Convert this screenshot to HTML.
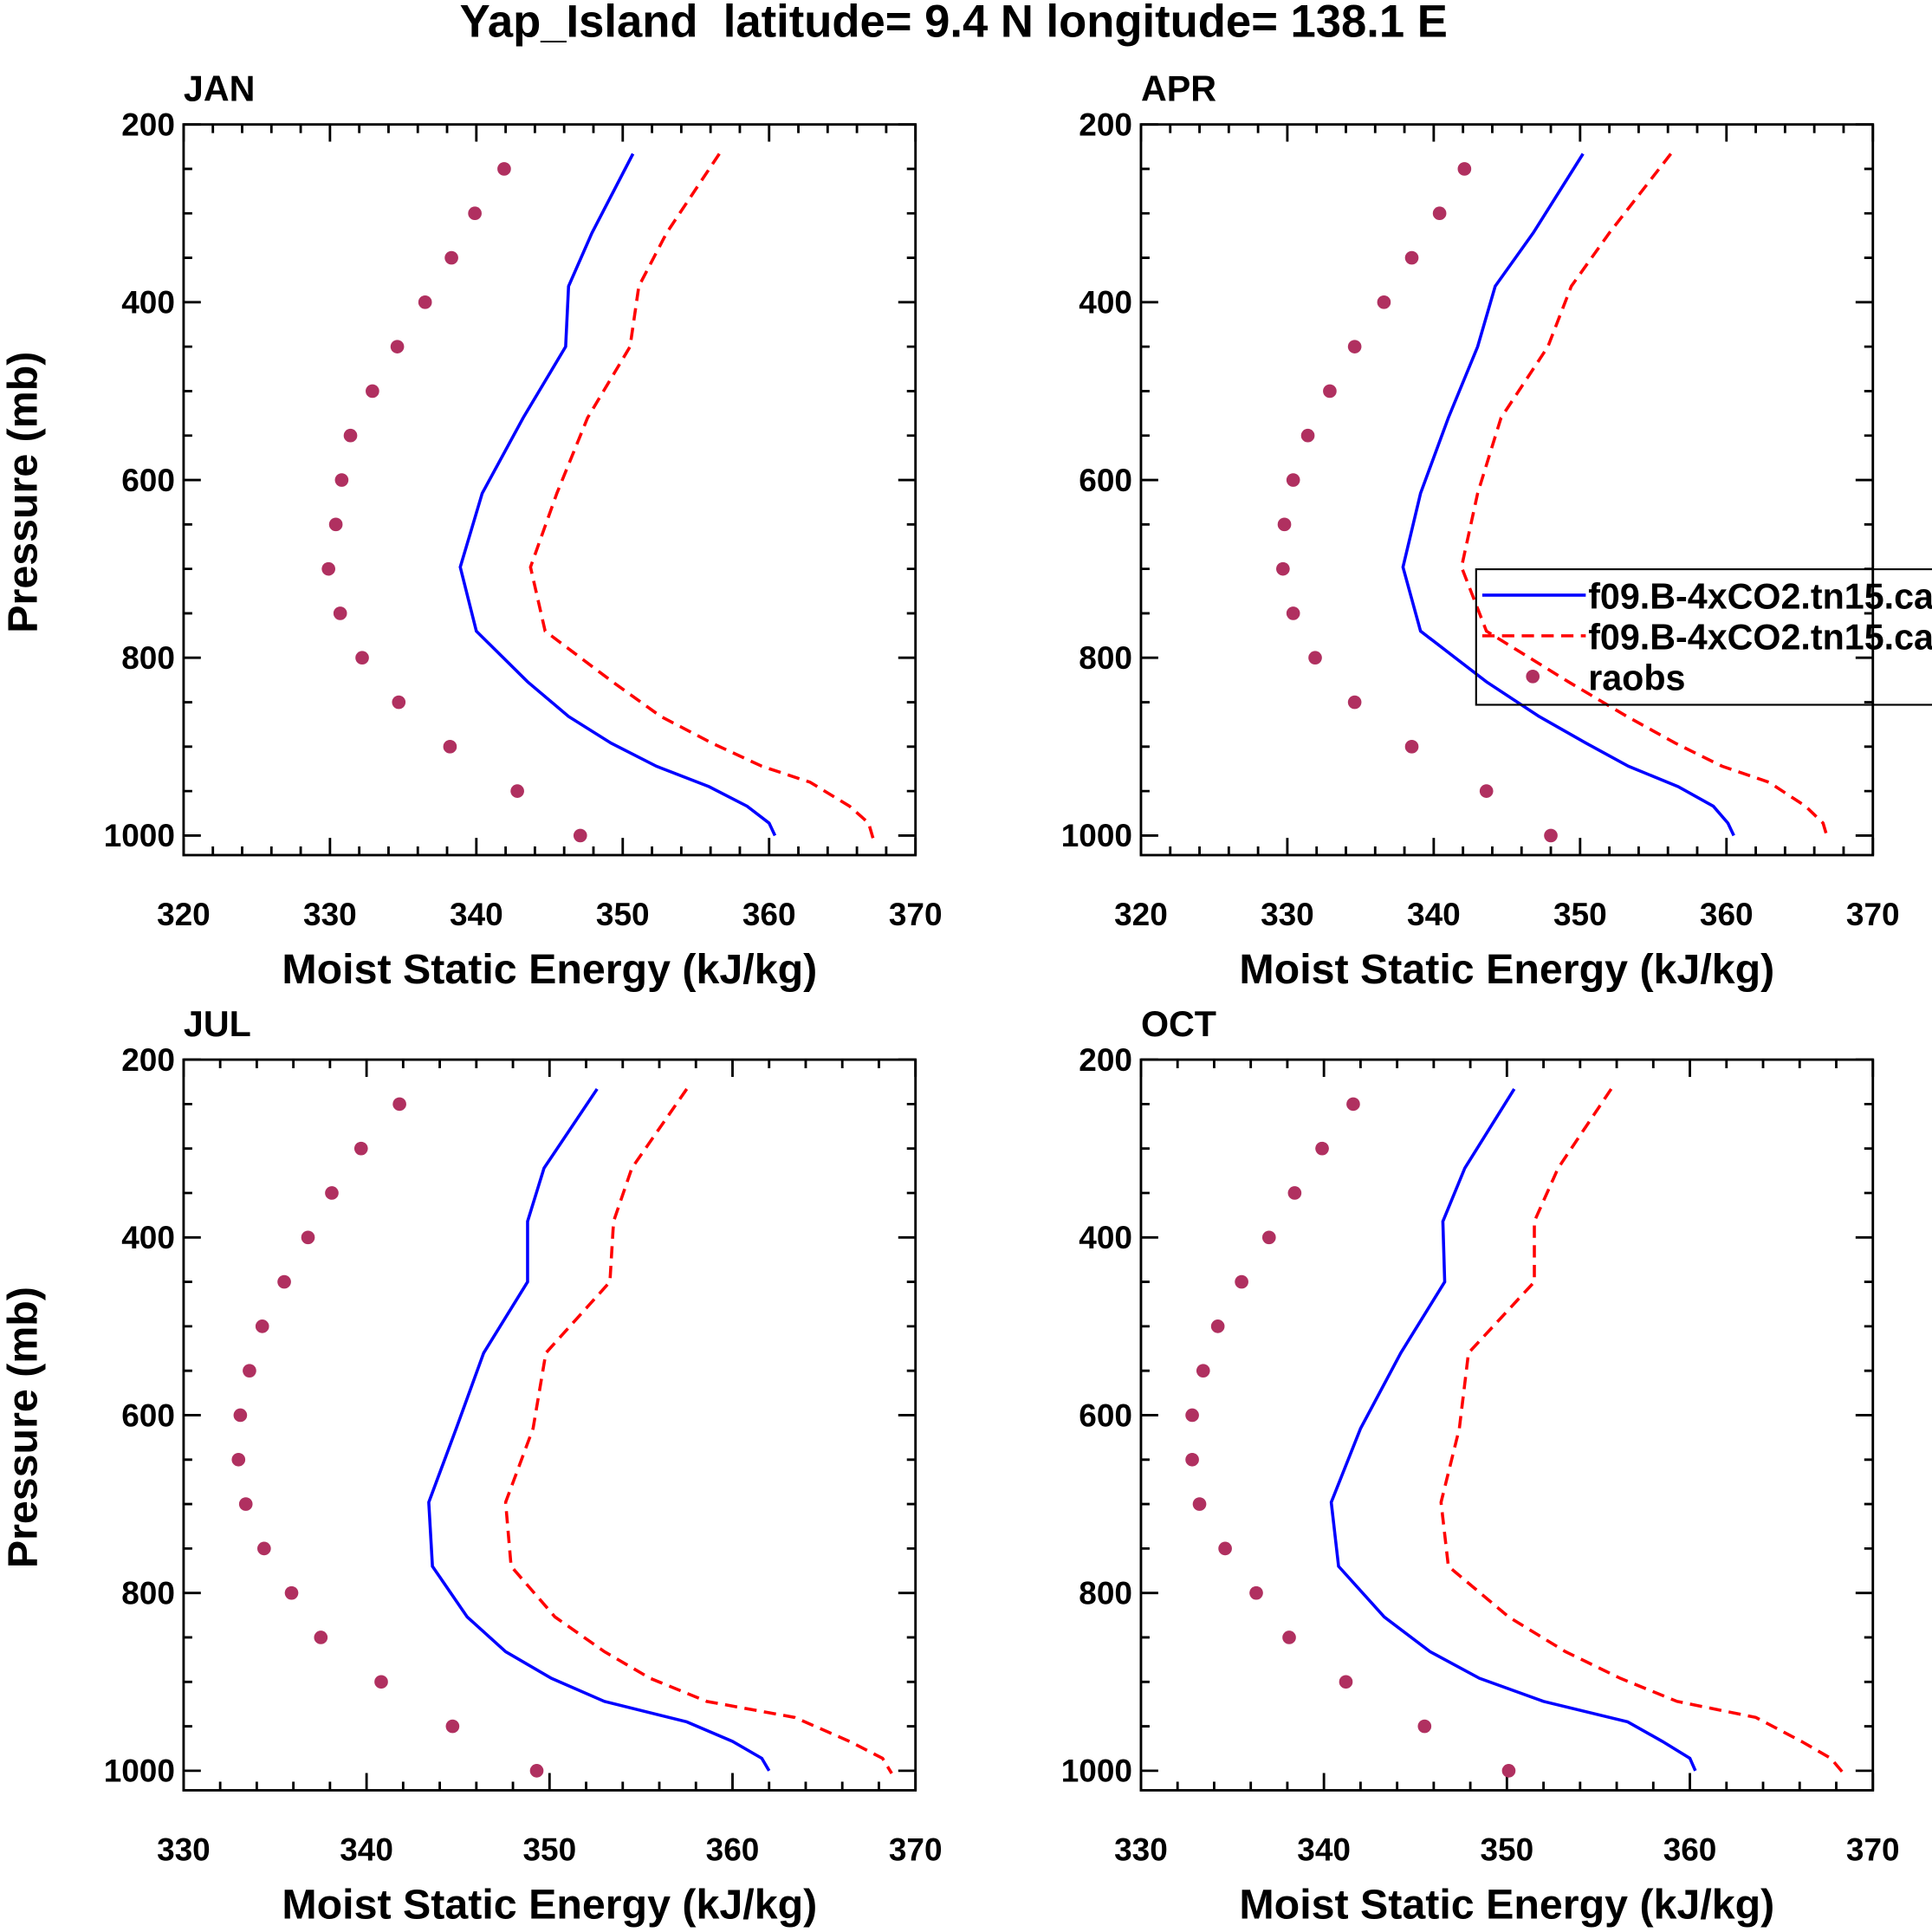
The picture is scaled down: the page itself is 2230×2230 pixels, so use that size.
<!DOCTYPE html>
<html><head><meta charset="utf-8"><style>
html,body{margin:0;padding:0;background:#fff}
svg{display:block}
text{font-family:"Liberation Sans",Arial,sans-serif;font-weight:bold;fill:#000}
</style></head><body>
<svg id="chart" width="2230" height="2230" viewBox="0 0 1568 1568" xmlns="http://www.w3.org/2000/svg">
<text x="774" y="30" font-size="37" text-anchor="middle">Yap_Island&#160; latitude= 9.4 N longitude= 138.1 E</text>
</svg>
<script>
const modelP = [233,322,382,450,530,615,698,770,827,866,896,922,945,967,986,1000];
const redP = [233,322,382,450,530,615,698,770,827,866,896,922,940,967,986,1003];
const raobP = [250,300,350,400,450,500,550,600,650,700,750,800,850,900,950,1000];
const janBlue = [350.7,347.9,346.3,346.1,343.2,340.4,338.9,340.0,343.5,346.3,349.2,352.3,355.9,358.5,360.0,360.4];
const janRed = [356.6,353.0,351.1,350.5,347.6,345.5,343.7,344.7,349.3,352.6,356.1,359.5,362.8,365.5,366.8,367.1];
const janRaob = [341.9,339.9,338.3,336.5,334.6,332.9,331.4,330.8,330.4,329.9,330.7,332.2,334.7,338.2,342.8,347.1];
const aprBlue = [350.2,346.8,344.2,343.0,341.0,339.1,337.9,339.1,343.6,347.2,350.4,353.3,356.7,359.1,360.1,360.5];
const aprRed = [356.2,352.0,349.4,347.8,344.6,343.0,341.9,343.6,349.2,353.2,356.5,359.7,362.9,365.4,366.6,366.9];
const aprRaob = [342.1,340.4,338.5,336.6,334.6,332.9,331.4,330.4,329.8,329.7,330.4,331.9,334.6,338.5,343.6,348.0];
const julBlue = [352.6,349.7,348.8,348.8,346.4,344.9,343.4,343.6,345.5,347.6,350.1,353.0,357.5,360.0,361.6,362.0];
const julRed = [357.5,354.5,353.5,353.3,349.8,349.1,347.6,347.9,350.3,353.0,355.5,358.6,363.4,366.4,368.2,368.7];
const julRaob = [341.8,339.7,338.1,336.8,335.5,334.3,333.6,333.1,333.0,333.4,334.4,335.9,337.5,340.8,344.7,349.3];
const octBlue = [350.4,347.7,346.5,346.6,344.2,342.0,340.4,340.8,343.3,345.8,348.5,352.0,356.6,358.5,360.0,360.3];
const octRed = [355.7,352.8,351.5,351.5,347.9,347.4,346.4,346.8,350.1,353.2,356.2,359.3,363.6,366.1,367.7,368.4];
const octRaob = [341.6,339.9,338.4,337.0,335.5,334.2,333.4,332.8,332.8,333.2,334.6,336.3,338.1,341.2,345.5,350.1];
const yTicks = [200,400,600,800,1000];
const xTicksTop = [320,330,340,350,360,370];
const xTicksBot = [330,340,350,360,370];
const legendLabels = ["f09.B-4xCO2.tn15.cam","f09.B-4xCO2.tn15.cam","raobs"];

const NS="http://www.w3.org/2000/svg";
const svg=document.getElementById('chart');
function mk(tag,attrs,parent){const e=document.createElementNS(NS,tag);for(const k in attrs)e.setAttribute(k,attrs[k]);(parent||svg).appendChild(e);return e;}

function panel(name,label,L,T,xmin,xmax,xticks,blue,red,raob,showYTitle){
  const R=L+594,B=T+593,Pmin=200,Pmax=1022;
  const g=mk('g',{});
  
  
  const X=v=>L+(v-xmin)/(xmax-xmin)*(R-L);
  const Y=p=>T+(p-Pmin)/(Pmax-Pmin)*(B-T);
  const fr=mk('rect',{x:L,y:T,width:R-L,height:B-T,fill:'none',stroke:'#000','stroke-width':2},g);
  
  let d='';
  for(let p=200;p<=1000;p+=50){const y=Y(p),len=(p%200===0)?14:7;d+=`M${L} ${y}h${len}M${R} ${y}h${-len}`;}
  for(let v=xmin;v<=xmax+1e-9;v+=2){const x=X(v),len=(v%10===0)?14:7;d+=`M${x} ${B}v${-len}M${x} ${T}v${len}`;}
  mk('path',{d:d,stroke:'#000','stroke-width':2,fill:'none'},g);
  yTicks.forEach(p=>{const t=mk('text',{x:L-7,y:Y(p)+9,'font-size':26,'text-anchor':'end'},g);t.textContent=p;
    });
  xticks.forEach(v=>{const t=mk('text',{x:X(v),y:B+57,'font-size':26,'text-anchor':'middle'},g);t.textContent=v;
    });
  const xt=mk('text',{x:(L+R)/2,y:B+104,'font-size':34,'text-anchor':'middle'},g);xt.textContent='Moist Static Energy (kJ/kg)';
  
  if(showYTitle){const yt=mk('text',{x:0,y:0,'font-size':34,'text-anchor':'middle',transform:`translate(30 ${(T+B)/2+2}) rotate(-90)`},g);yt.textContent='Pressure (mb)';
    }
  const lb=mk('text',{x:L,y:T-19,'font-size':29},g);lb.textContent=label;
  
  const bl=mk('polyline',{points:blue.map((v,i)=>X(v)+','+Y(modelP[i])).join(' '),fill:'none',stroke:'#0000ff','stroke-width':2.5},g);
  
  const rl=mk('polyline',{points:red.map((v,i)=>X(v)+','+Y(redP[i])).join(' '),fill:'none',stroke:'#ff0000','stroke-width':2.5,'stroke-dasharray':'10 6'},g);
  
  raob.forEach((v,i)=>{const c=mk('circle',{cx:X(v),cy:Y(raobP[i]),r:5.5,fill:'#b03060'},g);
    });
}
panel('jan','JAN',149,101,320,370,xTicksTop,janBlue,janRed,janRaob,true);
panel('apr','APR',926,101,320,370,xTicksTop,aprBlue,aprRed,aprRaob,false);
panel('jul','JUL',149,860,330,370,xTicksBot,julBlue,julRed,julRaob,true);
panel('oct','OCT',926,860,330,370,xTicksBot,octBlue,octRed,octRaob,false);

const lg=mk('g',{});


mk('rect',{x:1198,y:462,width:380,height:110,fill:'none',stroke:'#000','stroke-width':1.5},lg);
mk('line',{x1:1203,y1:483,x2:1287,y2:483,stroke:'#0000ff','stroke-width':2.5},lg);
mk('line',{x1:1203,y1:516,x2:1287,y2:516,stroke:'#ff0000','stroke-width':2.5,'stroke-dasharray':'10 6'},lg);
mk('circle',{cx:1244,cy:549,r:5.5,fill:'#b03060'},lg);
[483,516,549].forEach((y,i)=>{const t=mk('text',{x:1289,y:y+11,'font-size':29},lg);t.textContent=legendLabels[i];
  });
</script>
</body></html>
